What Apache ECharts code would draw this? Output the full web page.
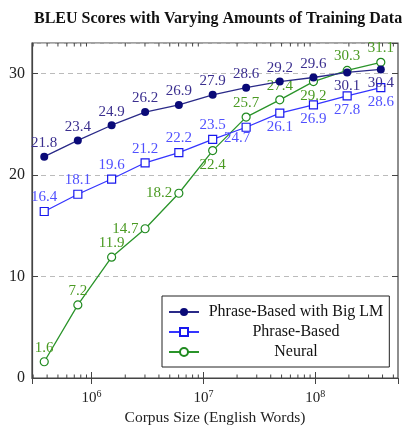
<!DOCTYPE html>
<html>
<head>
<meta charset="utf-8">
<script src="https://cdn.jsdelivr.net/npm/echarts@6/dist/echarts.min.js"></script>
<style>
html,body{margin:0;padding:0;background:#fff;}
#main{width:407px;height:426px;}
</style>
</head>
<body>
<div id="main"></div>
<script>
// corpus sizes (English words)
var corpusSize = [3.77e5, 7.53e5, 1.51e6, 3.01e6, 6.03e6, 1.21e7, 2.41e7, 4.82e7, 9.64e7, 1.93e8, 3.86e8];
var bigLM = [21.8, 23.4, 24.9, 26.2, 26.9, 27.9, 28.6, 29.2, 29.6, 30.1, 30.4];
var phraseBased = [16.4, 18.1, 19.6, 21.2, 22.2, 23.5, 24.7, 26.1, 26.9, 27.8, 28.6];
var neural = [1.6, 7.2, 11.9, 14.7, 18.2, 22.4, 25.7, 27.4, 29.2, 30.3, 31.1];
var yTicks = [0, 10, 20, 30];

// where each point's label sits
var posBig = ['top','top','top','top','top','top','top','top','top','bottom','bottom'];
var posPB = ['top','top','top','top','top','top','bottom','bottom','bottom','bottom','bottom'];
var posNe = ['top','top','top','left','left','bottom','top','top','bottom','top','top'];

var serif = '"Liberation Serif", "DejaVu Serif", serif';

// minor log ticks
var minor = [];
for (var e = 5; e <= 8; e++) {
    for (var m = 2; m <= 9; m++) {
        var v = m * Math.pow(10, e);
        if (v > 2.93e5 && v < 5.5e8) minor.push([v]);
    }
}

function build(vals, pos, labelColor) {
    return vals.map(function (v, i) {
        var lab = {position: pos[i], color: labelColor};
        if (v === 24.7 && labelColor === '#5050ff') lab.offset = [-9, -3];
        return {
            value: [corpusSize[i], v],
            label: lab
        };
    });
}

var myChart = echarts.init(document.getElementById('main'));
var option = {
    backgroundColor: '#fff',
    animation: false,
    title: {
        text: 'BLEU Scores with Varying Amounts of Training Data',
        left: 29,
        top: 6,
        textStyle: {fontFamily: serif, fontWeight: 'bold', fontSize: 16, color: '#111'}
    },
    grid: {
        left: 32, right: 9, top: 43, bottom: 48,
        outerBoundsMode: 'none',
        containLabel: false,
        show: true, borderColor: '#444', borderWidth: 1.2
    },
    legend: {
        orient: 'vertical',
        left: 162,
        top: 296,
        width: 230,
        padding: [8, 6, 7, 6],
        itemGap: 4,
        itemWidth: 30,
        itemHeight: 10,
        backgroundColor: '#fff',
        borderColor: '#222',
        borderWidth: 1,
        borderRadius: 0,
        data: ['Phrase-Based with Big LM', 'Phrase-Based', 'Neural'],
        formatter: function (name) { return '{c|' + name + '}'; },
        textStyle: {
            fontFamily: serif, fontSize: 16, color: '#111',
            rich: {c: {width: 184, align: 'center', fontFamily: serif, fontSize: 16, color: '#111'}}
        }
    },
    xAxis: [{
        type: 'log',
        logBase: 10,
        min: 2.93e5,
        max: 5.5e8,
        name: 'Corpus Size (English Words)',
        nameLocation: 'middle',
        nameGap: 30,
        nameTextStyle: {fontFamily: serif, fontSize: 15.5, color: '#222'},
        axisLine: {lineStyle: {color: '#444', width: 1.2}},
        axisTick: {inside: true, length: 6, lineStyle: {color: '#444'}},
        splitLine: {show: false},
        axisLabel: {
            showMinLabel: false,
            showMaxLabel: false,
            margin: 11,
            fontFamily: serif, fontSize: 15, color: '#222',
            formatter: function (v) {
                return '10{s|' + Math.round(Math.log10(v)) + '}';
            },
            rich: {s: {fontSize: 10, fontFamily: serif, color: '#222', verticalAlign: 'top', padding: [0, 0, 8, 0]}}
        }
    }, {
        type: 'log',
        logBase: 10,
        min: 2.93e5,
        max: 5.5e8,
        position: 'top',
        axisLine: {show: false},
        axisTick: {inside: true, length: 6, lineStyle: {color: '#444'}},
        axisLabel: {show: false},
        splitLine: {show: false}
    }],
    yAxis: [{
        type: 'value',
        min: 0,
        max: 33,
        interval: 10,
        axisLine: {show: true, lineStyle: {color: '#444', width: 1.2}},
        axisTick: {inside: true, length: 6, lineStyle: {color: '#444'}},
        axisLabel: {
            showMaxLabel: false,
            margin: 7,
            fontFamily: serif, fontSize: 16, color: '#222',
            formatter: function (v) { return yTicks.indexOf(v) >= 0 ? String(v) : ''; }
        },
        splitLine: {show: true, lineStyle: {color: '#bbb', type: [5, 4], width: 1}}
    }, {
        type: 'value',
        min: 0,
        max: 33,
        interval: 10,
        position: 'right',
        axisLine: {show: false},
        axisTick: {inside: true, length: 6, lineStyle: {color: '#444'}},
        axisLabel: {show: false},
        splitLine: {show: false}
    }],
    series: [{
        type: 'custom',
        silent: true,
        legendHoverLink: false,
        data: minor,
        renderItem: function (params, api) {
            var b = api.coord([api.value(0), 0]);
            var t = api.coord([api.value(0), 33]);
            return {
                type: 'group',
                children: [
                    {type: 'line', shape: {x1: b[0], y1: b[1], x2: b[0], y2: b[1] - 3.5}, style: {stroke: '#444', lineWidth: 1}},
                    {type: 'line', shape: {x1: t[0], y1: t[1], x2: t[0], y2: t[1] + 3.5}, style: {stroke: '#444', lineWidth: 1}}
                ]
            };
        },
        encode: {x: 0}
    }, {
        name: 'Neural',
        type: 'line',
        data: build(neural, posNe, '#4a9a22'),
        symbol: 'circle',
        symbolSize: 8,
        color: '#1f8a1f',
        lineStyle: {color: '#2a942a', width: 1.3},
        itemStyle: {color: '#fff', borderColor: '#1f8a1f', borderWidth: 1.2},
        label: {show: true, fontFamily: serif, fontSize: 15, distance: 2},
        z: 3
    }, {
        name: 'Phrase-Based',
        type: 'line',
        data: build(phraseBased, posPB, '#5050ff'),
        symbol: 'rect',
        symbolSize: 8,
        color: '#1818ee',
        lineStyle: {color: '#3535ff', width: 1.3},
        itemStyle: {color: '#fff', borderColor: '#1818ee', borderWidth: 1.2},
        label: {show: true, fontFamily: serif, fontSize: 15, distance: 2},
        z: 4
    }, {
        name: 'Phrase-Based with Big LM',
        type: 'line',
        data: build(bigLM, posBig, '#3b2f8f'),
        symbol: 'circle',
        symbolSize: 8,
        color: '#0a0a78',
        lineStyle: {color: '#2a2a88', width: 1.3},
        itemStyle: {color: '#0a0a78'},
        label: {show: true, fontFamily: serif, fontSize: 15, distance: 2},
        z: 5
    }]
};
myChart.setOption(option);
</script>
</body>
</html>
